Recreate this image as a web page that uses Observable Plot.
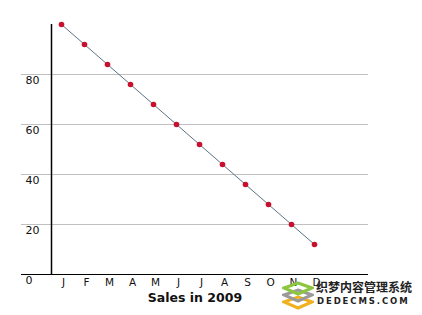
<!DOCTYPE html>
<html>
<head>
<meta charset="utf-8">
<script src="https://cdn.jsdelivr.net/npm/d3@7"></script>
<script src="https://cdn.jsdelivr.net/npm/@observablehq/plot@0.6"></script>
<style>
  html, body { margin: 0; padding: 0; background: #fff; }
  #wrap { position: relative; width: 422px; height: 315px; overflow: hidden; }
  #wm { position: absolute; left: 282px; top: 280px; width: 140px; height: 30px; }
  #wm .cn { position: absolute; left: 34px; top: 0px; font: bold 12px "Noto Sans CJK SC", sans-serif; color: #222; line-height: 13px; white-space: nowrap; }
  #wm .en { position: absolute; left: 35px; top: 16px; font: bold 8.5px "DejaVu Sans", sans-serif; color: #222; letter-spacing: 1.9px; white-space: nowrap; line-height: 10px; }
</style>
</head>
<body>
<div id="wrap"></div>
<script>
const months = ["J","F","M","A","M","J","J","A","S","O","N","D"];
const sales = [100, 92, 84, 76, 68, 60, 52, 44, 36, 28, 20, 12];
const yTicks = [0, 20, 40, 60, 80];
const gridValues = [20, 40, 60, 80];
const title = "Sales in 2009";

const data = months.map((m, i) => ({i, m, v: sales[i]}));
const xDomain = [-40/23, 307/23];
const yAxisAt = -10/23;

const chart = Plot.plot({
  width: 422,
  height: 315,
  marginTop: 24,
  marginBottom: 41,
  marginLeft: 21,
  marginRight: 54,
  x: {domain: xDomain, axis: null},
  y: {domain: [0, 100], axis: null},
  style: {fontFamily: "DejaVu Sans, sans-serif", background: "#fff"},
  marks: [
    Plot.ruleY(gridValues, {stroke: "#c0c0c0", strokeWidth: 1}),
    Plot.ruleY([0], {stroke: "#000", strokeWidth: 1.2}),
    Plot.ruleX([yAxisAt], {y1: 0, y2: 100, stroke: "#000", strokeWidth: 1.5}),
    Plot.text(yTicks, {x: () => xDomain[0], y: d => d, text: d => String(d), textAnchor: "start", dx: 4, dy: 6, fontSize: 11, fill: "#111"}),
    Plot.text(data, {x: "i", y: () => 0, text: "m", dx: 2, dy: 8, fontSize: 10.5, fill: "#111"}),
    Plot.line(data, {x: "i", y: "v", stroke: "#5a7383", strokeWidth: 1}),
    Plot.dot(data, {x: "i", y: "v", r: 2.8, fill: "#c8102e", stroke: "none"}),
    Plot.text([title], {frameAnchor: "bottom", dy: 27, fontSize: 12.5, fontWeight: "bold", fill: "#111"})
  ]
});
const wrap = document.getElementById("wrap");
wrap.appendChild(chart);

const wm = document.createElement("div");
wm.id = "wm";
wm.innerHTML = `
<svg width="32" height="30" style="position:absolute;left:0;top:0">
  <polygon points="16,17 30,22 16,28 2,22" fill="none" stroke="#f0b020" stroke-width="3"/>
  <polygon points="16,10 30,15 16,21 2,15" fill="none" stroke="#9a9a9a" stroke-width="3"/>
  <polygon points="16,3 30,8 16,14 2,8" fill="none" stroke="#8cc63f" stroke-width="3"/>
</svg>
<div class="cn">织梦内容管理系统</div>
<div class="en">DEDECMS.COM</div>`;
wrap.appendChild(wm);
</script>
</body>
</html>
